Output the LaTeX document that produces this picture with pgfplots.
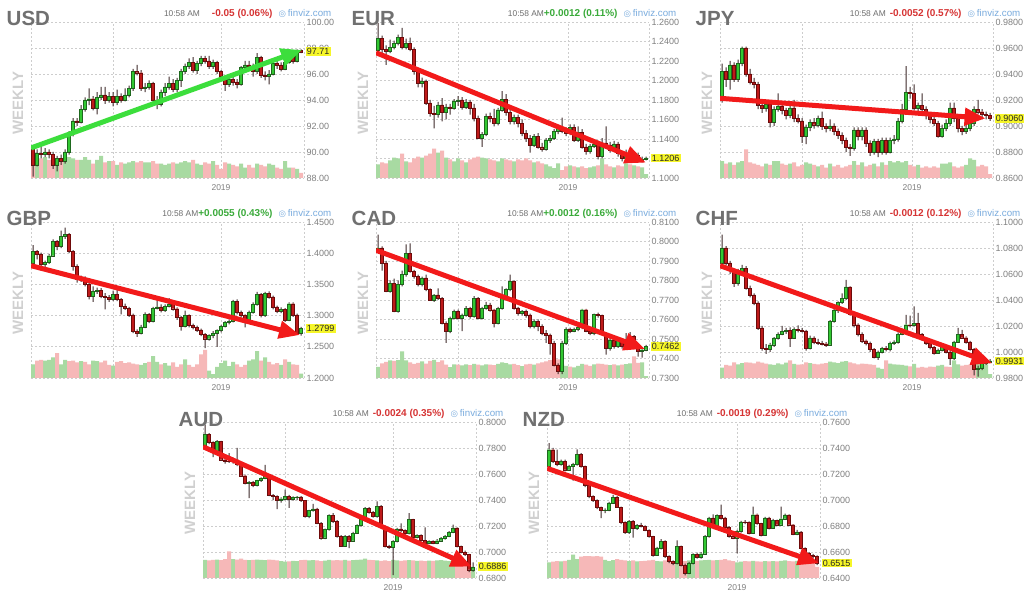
\documentclass[border=0pt]{standalone}
\usepackage{pgfplots}
\pgfplotsset{compat=1.18}
\usepackage{pgfplotstable}
\usepackage{fontspec}
\setmainfont{Liberation Sans}
\newfontfamily\dejavu{DejaVu Sans}
\usetikzlibrary{arrows.meta}

\definecolor{volg}{RGB}{168,218,162}
\definecolor{volr}{RGB}{246,184,184}
\definecolor{bodyg}{RGB}{50,200,50}
\definecolor{edgeg}{RGB}{30,105,30}
\definecolor{bodyr}{RGB}{190,26,26}
\definecolor{edger}{RGB}{110,10,10}
\definecolor{wickc}{RGB}{60,40,40}
\definecolor{arrr}{RGB}{242,26,26}
\definecolor{arrg}{RGB}{60,222,60}
\definecolor{titlegray}{RGB}{112,112,112}
\definecolor{weeklygray}{RGB}{208,208,208}
\definecolor{tickgray}{RGB}{128,128,128}
\definecolor{timegray}{RGB}{110,110,110}
\definecolor{chgred}{RGB}{214,52,52}
\definecolor{chggreen}{RGB}{58,170,58}
\definecolor{fvblue}{RGB}{122,172,222}
\definecolor{ybox}{RGB}{246,246,40}
\definecolor{gridc}{RGB}{205,205,205}

\pgfplotstableread{
o c h l v
90.2 89.0 90.3 88.1 89.7
89.0 89.9 90.2 88.9 89.5
89.9 89.8 90.6 89.5 89.5
89.8 90.0 90.3 89.6 89.6
90.0 89.8 90.2 89.5 89.4
89.8 89.0 90.0 88.7 89.4
89.0 89.5 89.7 88.5 89.3
89.5 89.3 89.8 89.0 89.5
89.3 90.0 90.2 89.1 89.7
90.0 91.4 91.6 89.8 89.6
91.4 92.4 92.6 91.2 89.5
92.4 92.3 92.6 92.0 89.4
92.3 93.3 93.6 92.2 89.4
93.3 94.0 94.2 93.1 89.6
94.0 94.1 94.9 93.6 89.4
94.1 93.4 94.3 93.2 89.1
93.4 94.2 94.6 92.9 89.4
94.2 94.4 95.0 94.0 89.7
94.4 94.0 95.0 93.7 89.2
94.0 94.3 94.6 93.8 89.3
94.3 93.8 94.6 93.5 89.3
93.8 94.3 94.8 93.6 89.0
94.3 94.0 94.5 93.8 89.2
94.0 94.4 94.9 93.9 89.1
94.4 94.9 95.1 94.2 89.2
94.9 96.2 96.4 94.7 89.3
96.2 96.1 96.7 95.9 89.2
96.1 94.9 96.3 94.7 89.3
94.9 95.0 95.3 94.6 89.2
95.0 95.3 95.5 94.8 89.2
95.3 94.0 95.4 93.9 89.3
94.0 93.7 94.3 93.3 89.1
93.7 94.6 94.8 93.5 89.1
94.6 95.0 95.3 94.3 89.0
95.0 95.3 95.8 94.8 89.1
95.3 94.8 95.6 94.6 89.2
94.8 95.5 95.7 94.6 89.1
95.5 96.2 96.4 95.0 89.2
96.2 96.6 96.8 96.0 89.3
96.6 96.9 97.2 96.4 89.2
96.9 96.3 97.3 96.1 89.4
96.3 96.8 97.0 96.0 89.1
96.8 97.2 97.4 96.6 89.0
97.2 97.0 97.4 96.8 89.2
97.0 96.6 97.4 96.4 89.1
96.6 96.9 97.1 96.4 89.3
96.9 96.2 97.0 96.0 89.0
96.2 95.8 96.3 95.6 88.7
95.8 95.2 95.9 94.7 89.2
95.2 95.6 95.8 95.0 89.1
95.6 95.4 95.9 95.1 89.0
95.4 95.2 95.6 94.9 88.9
95.2 96.5 96.6 95.1 89.1
96.5 96.7 97.0 96.3 88.8
96.7 96.6 97.0 96.3 89.0
96.6 96.2 96.8 95.8 88.8
96.2 97.3 97.6 96.0 89.1
97.3 95.9 97.4 95.7 89.0
95.9 95.8 96.2 95.5 88.9
95.8 96.0 96.3 95.2 89.1
96.0 96.8 97.0 95.9 89.0
96.8 96.7 97.1 96.4 88.8
96.7 96.4 96.9 96.2 88.7
96.4 96.9 97.6 96.3 89.3
96.9 97.4 97.6 96.8 88.8
97.4 97.0 97.5 96.8 88.8
97.0 97.8 97.9 96.9 88.7
97.8 97.71 97.9 97.6 88.4
}\tUSD

\pgfplotstableread{
o c h l v
1.2315 1.2435 1.2590 1.2290 1.114
1.2435 1.2320 1.2460 1.2280 1.116
1.2320 1.2300 1.2360 1.2160 1.115
1.2300 1.2340 1.2420 1.2280 1.118
1.2340 1.2380 1.2410 1.2320 1.121
1.2380 1.2440 1.2470 1.2360 1.120
1.2440 1.2340 1.2540 1.2320 1.125
1.2340 1.2380 1.2430 1.2320 1.117
1.2380 1.2320 1.2440 1.2300 1.116
1.2320 1.2100 1.2340 1.2060 1.120
1.2100 1.1970 1.2130 1.1930 1.122
1.1970 1.1990 1.2030 1.1930 1.121
1.1990 1.1770 1.2010 1.1750 1.123
1.1770 1.1660 1.1800 1.1630 1.125
1.1660 1.1650 1.1740 1.1510 1.130
1.1650 1.1750 1.1780 1.1620 1.126
1.1750 1.1670 1.1820 1.1580 1.128
1.1670 1.1730 1.1760 1.1600 1.121
1.1730 1.1720 1.1760 1.1650 1.119
1.1720 1.1790 1.1810 1.1700 1.117
1.1790 1.1800 1.1840 1.1740 1.120
1.1800 1.1730 1.1830 1.1700 1.118
1.1730 1.1780 1.1810 1.1710 1.116
1.1780 1.1720 1.1800 1.1650 1.119
1.1720 1.1610 1.1760 1.1580 1.121
1.1610 1.1410 1.1640 1.1400 1.122
1.1410 1.1450 1.1470 1.1320 1.121
1.1450 1.1630 1.1660 1.1430 1.120
1.1630 1.1610 1.1670 1.1570 1.119
1.1610 1.1560 1.1710 1.1530 1.118
1.1560 1.1700 1.1720 1.1540 1.117
1.1700 1.1810 1.1890 1.1680 1.120
1.1810 1.1670 1.1860 1.1640 1.119
1.1670 1.1580 1.1700 1.1550 1.118
1.1580 1.1620 1.1650 1.1550 1.117
1.1620 1.1560 1.1650 1.1520 1.119
1.1560 1.1460 1.1600 1.1430 1.118
1.1460 1.1410 1.1490 1.1370 1.120
1.1410 1.1340 1.1440 1.1260 1.118
1.1340 1.1430 1.1450 1.1320 1.116
1.1430 1.1320 1.1460 1.1300 1.117
1.1320 1.1300 1.1360 1.1270 1.115
1.1300 1.1390 1.1410 1.1280 1.114
1.1390 1.1410 1.1440 1.1360 1.112
1.1410 1.1480 1.1500 1.1390 1.110
1.1480 1.1510 1.1540 1.1450 1.115
1.1510 1.1480 1.1620 1.1460 1.108
1.1480 1.1460 1.1520 1.1430 1.112
1.1460 1.1520 1.1550 1.1440 1.113
1.1520 1.1390 1.1550 1.1370 1.112
1.1390 1.1470 1.1530 1.1370 1.111
1.1470 1.1320 1.1500 1.1300 1.112
1.1320 1.1270 1.1350 1.1240 1.110
1.1270 1.1330 1.1350 1.1250 1.111
1.1330 1.1350 1.1390 1.1310 1.112
1.1350 1.1220 1.1380 1.1190 1.113
1.1220 1.1360 1.1410 1.1200 1.120
1.1360 1.1340 1.1530 1.1320 1.114
1.1340 1.1290 1.1370 1.1260 1.112
1.1290 1.1350 1.1380 1.1270 1.111
1.1350 1.1250 1.1370 1.1220 1.113
1.1250 1.1200 1.1270 1.1170 1.112
1.1200 1.1240 1.1290 1.1180 1.115
1.1240 1.1200 1.1270 1.1160 1.114
1.1200 1.1230 1.1260 1.1180 1.113
1.1230 1.1180 1.1260 1.1160 1.112
1.1180 1.1190 1.1220 1.1160 1.111
1.1190 1.1206 1.1220 1.1180 1.104
}\tEUR

\pgfplotstableread{
o c h l v
0.920 0.942 0.948 0.918 0.873
0.942 0.936 0.945 0.930 0.871
0.936 0.947 0.950 0.928 0.872
0.947 0.936 0.949 0.934 0.870
0.936 0.948 0.951 0.934 0.872
0.948 0.960 0.961 0.946 0.873
0.960 0.940 0.961 0.938 0.882
0.940 0.934 0.944 0.932 0.872
0.934 0.932 0.937 0.929 0.871
0.932 0.916 0.934 0.913 0.870
0.916 0.914 0.920 0.910 0.869
0.914 0.917 0.920 0.911 0.871
0.917 0.903 0.919 0.899 0.870
0.903 0.913 0.915 0.900 0.873
0.913 0.915 0.925 0.911 0.873
0.915 0.912 0.918 0.909 0.871
0.912 0.908 0.914 0.905 0.870
0.908 0.914 0.916 0.906 0.871
0.914 0.906 0.920 0.903 0.872
0.906 0.904 0.909 0.902 0.869
0.904 0.892 0.906 0.887 0.870
0.892 0.899 0.901 0.886 0.872
0.899 0.903 0.905 0.896 0.871
0.903 0.901 0.906 0.898 0.870
0.901 0.906 0.908 0.899 0.869
0.906 0.8995 0.911 0.897 0.870
0.8995 0.898 0.902 0.895 0.868
0.898 0.900 0.905 0.896 0.871
0.900 0.896 0.902 0.893 0.869
0.896 0.893 0.898 0.890 0.870
0.893 0.889 0.895 0.886 0.868
0.889 0.884 0.891 0.880 0.869
0.884 0.883 0.886 0.877 0.870
0.883 0.897 0.899 0.881 0.873
0.897 0.892 0.899 0.889 0.870
0.892 0.897 0.899 0.889 0.872
0.897 0.887 0.899 0.884 0.869
0.887 0.880 0.889 0.877 0.870
0.880 0.888 0.890 0.878 0.871
0.888 0.880 0.890 0.876 0.869
0.880 0.889 0.891 0.878 0.872
0.889 0.880 0.891 0.878 0.870
0.880 0.889 0.891 0.879 0.873
0.889 0.890 0.893 0.886 0.872
0.890 0.904 0.906 0.888 0.873
0.904 0.913 0.917 0.902 0.872
0.913 0.926 0.946 0.911 0.873
0.926 0.925 0.930 0.921 0.870
0.925 0.914 0.932 0.912 0.869
0.914 0.916 0.918 0.911 0.870
0.916 0.913 0.925 0.911 0.868
0.913 0.908 0.915 0.905 0.869
0.908 0.905 0.910 0.902 0.868
0.905 0.902 0.907 0.900 0.869
0.902 0.892 0.904 0.891 0.868
0.892 0.898 0.901 0.891 0.871
0.898 0.902 0.905 0.896 0.871
0.902 0.914 0.918 0.900 0.872
0.914 0.906 0.918 0.903 0.869
0.906 0.898 0.909 0.895 0.868
0.898 0.896 0.900 0.893 0.869
0.896 0.898 0.901 0.894 0.870
0.898 0.902 0.905 0.896 0.875
0.902 0.913 0.915 0.900 0.874
0.913 0.911 0.920 0.909 0.869
0.911 0.909 0.913 0.905 0.870
0.909 0.908 0.911 0.905 0.869
0.908 0.906 0.910 0.904 0.863
}\tJPY

\pgfplotstableread{
o c h l v
1.384 1.403 1.413 1.380 1.222
1.403 1.398 1.405 1.390 1.228
1.398 1.382 1.401 1.372 1.229
1.382 1.385 1.388 1.377 1.228
1.385 1.396 1.399 1.383 1.229
1.396 1.419 1.422 1.394 1.233
1.419 1.411 1.421 1.405 1.240
1.411 1.427 1.436 1.408 1.222
1.427 1.430 1.441 1.423 1.229
1.430 1.403 1.432 1.400 1.227
1.403 1.379 1.405 1.372 1.228
1.379 1.358 1.382 1.353 1.225
1.358 1.360 1.364 1.354 1.227
1.360 1.350 1.363 1.347 1.226
1.350 1.331 1.352 1.326 1.222
1.331 1.339 1.347 1.322 1.228
1.339 1.341 1.345 1.335 1.227
1.341 1.331 1.344 1.328 1.225
1.331 1.329 1.336 1.310 1.228
1.329 1.326 1.333 1.322 1.221
1.326 1.334 1.340 1.323 1.220
1.334 1.326 1.341 1.323 1.226
1.326 1.315 1.328 1.302 1.227
1.315 1.312 1.319 1.309 1.224
1.312 1.301 1.314 1.298 1.225
1.301 1.275 1.303 1.272 1.223
1.275 1.272 1.278 1.266 1.222
1.272 1.282 1.285 1.270 1.221
1.282 1.302 1.305 1.280 1.224
1.302 1.291 1.304 1.288 1.226
1.291 1.312 1.314 1.289 1.235
1.312 1.314 1.331 1.310 1.226
1.314 1.308 1.318 1.305 1.222
1.308 1.315 1.318 1.306 1.224
1.315 1.318 1.328 1.313 1.220
1.318 1.311 1.321 1.308 1.225
1.311 1.297 1.313 1.293 1.218
1.297 1.283 1.299 1.276 1.222
1.283 1.300 1.308 1.281 1.230
1.300 1.284 1.302 1.281 1.221
1.284 1.281 1.287 1.278 1.218
1.281 1.277 1.284 1.274 1.222
1.277 1.270 1.279 1.267 1.238
1.270 1.263 1.272 1.248 1.245
1.263 1.268 1.270 1.260 1.212
1.268 1.272 1.275 1.264 1.206
1.272 1.276 1.278 1.250 1.218
1.276 1.283 1.285 1.273 1.224
1.283 1.289 1.291 1.281 1.228
1.289 1.291 1.294 1.286 1.219
1.291 1.323 1.325 1.289 1.226
1.323 1.305 1.326 1.302 1.222
1.305 1.300 1.308 1.297 1.218
1.300 1.293 1.302 1.281 1.221
1.293 1.305 1.308 1.291 1.228
1.305 1.318 1.321 1.303 1.230
1.318 1.334 1.338 1.316 1.243
1.334 1.300 1.336 1.297 1.228
1.300 1.336 1.338 1.298 1.233
1.336 1.330 1.339 1.327 1.226
1.330 1.314 1.332 1.310 1.222
1.314 1.307 1.316 1.304 1.224
1.307 1.310 1.313 1.304 1.221
1.310 1.293 1.312 1.290 1.230
1.293 1.319 1.321 1.291 1.226
1.319 1.301 1.321 1.298 1.222
1.301 1.272 1.303 1.269 1.221
1.272 1.2799 1.282 1.268 1.207
}\tGBP

\pgfplotstableread{
o c h l v
0.7955 0.7967 0.8035 0.7950 0.7357
0.7967 0.7890 0.7975 0.7850 0.7375
0.7890 0.7744 0.7900 0.7740 0.7382
0.7744 0.7787 0.7800 0.7738 0.7390
0.7787 0.7642 0.7810 0.7638 0.7388
0.7642 0.7779 0.7800 0.7635 0.7392
0.7779 0.7830 0.7850 0.7770 0.7437
0.7830 0.7940 0.7985 0.7820 0.7390
0.7940 0.7847 0.7990 0.7840 0.7380
0.7847 0.7821 0.7855 0.7810 0.7372
0.7821 0.7779 0.7830 0.7770 0.7378
0.7779 0.7813 0.7820 0.7770 0.7385
0.7813 0.7753 0.7830 0.7745 0.7374
0.7753 0.7700 0.7760 0.7695 0.7388
0.7700 0.7726 0.7730 0.7690 0.7393
0.7726 0.7710 0.7760 0.7700 0.7381
0.7710 0.7582 0.7715 0.7575 0.7390
0.7582 0.7540 0.7590 0.7480 0.7368
0.7540 0.7607 0.7615 0.7530 0.7355
0.7607 0.7641 0.7650 0.7600 0.7370
0.7641 0.7607 0.7650 0.7600 0.7368
0.7607 0.7624 0.7630 0.7540 0.7365
0.7624 0.7658 0.7668 0.7615 0.7370
0.7658 0.7615 0.7665 0.7605 0.7366
0.7615 0.7710 0.7720 0.7610 0.7372
0.7710 0.7607 0.7715 0.7600 0.7368
0.7607 0.7658 0.7665 0.7600 0.7364
0.7658 0.7675 0.7690 0.7650 0.7370
0.7675 0.7650 0.7685 0.7640 0.7368
0.7650 0.7582 0.7655 0.7560 0.7366
0.7582 0.7658 0.7665 0.7575 0.7372
0.7658 0.7718 0.7770 0.7650 0.7380
0.7718 0.7753 0.7760 0.7710 0.7376
0.7753 0.7796 0.7830 0.7745 0.7370
0.7796 0.7660 0.7800 0.7650 0.7372
0.7660 0.7632 0.7665 0.7620 0.7366
0.7632 0.7641 0.7648 0.7620 0.7361
0.7641 0.7624 0.7650 0.7610 0.7370
0.7624 0.7565 0.7630 0.7555 0.7372
0.7565 0.7590 0.7600 0.7555 0.7368
0.7590 0.7565 0.7600 0.7540 0.7375
0.7565 0.7530 0.7575 0.7520 0.7380
0.7530 0.7521 0.7545 0.7480 0.7385
0.7521 0.7479 0.7528 0.7420 0.7392
0.7479 0.7367 0.7490 0.7360 0.7400
0.7367 0.7333 0.7375 0.7320 0.7396
0.7333 0.7480 0.7490 0.7320 0.7370
0.7480 0.7550 0.7560 0.7470 0.7362
0.7550 0.7541 0.7558 0.7530 0.7358
0.7541 0.7550 0.7558 0.7535 0.7354
0.7550 0.7560 0.7568 0.7540 0.7362
0.7560 0.7650 0.7655 0.7550 0.7372
0.7650 0.7541 0.7655 0.7535 0.7368
0.7541 0.7530 0.7548 0.7520 0.7362
0.7530 0.7628 0.7630 0.7520 0.7370
0.7628 0.7620 0.7635 0.7610 0.7374
0.7620 0.7530 0.7625 0.7520 0.7372
0.7530 0.7454 0.7535 0.7420 0.7368
0.7454 0.7496 0.7505 0.7440 0.7366
0.7496 0.7462 0.7505 0.7450 0.7370
0.7462 0.7496 0.7505 0.7455 0.7364
0.7496 0.7462 0.7502 0.7450 0.7368
0.7462 0.7487 0.7530 0.7455 0.7371
0.7487 0.7513 0.7535 0.7480 0.7375
0.7513 0.7462 0.7520 0.7450 0.7411
0.7462 0.7436 0.7470 0.7410 0.7378
0.7436 0.7445 0.7455 0.7405 0.7380
0.7445 0.7462 0.7470 0.7438 0.7310
}\tCAD

\pgfplotstableread{
o c h l v
1.0685 1.0800 1.0903 1.0660 0.9880
1.0800 1.0685 1.0815 1.0670 0.9900
1.0685 1.0630 1.0700 1.0600 0.9895
1.0630 1.0530 1.0640 1.0500 0.9920
1.0530 1.0620 1.0640 1.0510 0.9905
1.0620 1.0646 1.0670 1.0600 0.9915
1.0646 1.0492 1.0660 1.0480 0.9920
1.0492 1.0440 1.0510 1.0420 0.9918
1.0440 1.0377 1.0450 1.0360 0.9912
1.0377 1.0185 1.0390 1.0170 0.9925
1.0185 1.0030 1.0200 1.0010 0.9918
1.0030 1.0020 1.0060 0.9985 0.9910
1.0020 1.0056 1.0070 1.0000 0.9905
1.0056 1.0108 1.0115 1.0040 0.9900
1.0108 1.0138 1.0150 1.0095 0.9912
1.0138 1.0159 1.0200 1.0130 0.9905
1.0159 1.0167 1.0185 1.0140 0.9918
1.0167 1.0108 1.0190 1.0040 0.9935
1.0108 1.0172 1.0190 1.0100 0.9908
1.0172 1.0167 1.0205 1.0150 0.9902
1.0167 1.0162 1.0185 1.0150 0.9905
1.0162 1.0030 1.0170 1.0010 0.9920
1.0030 1.0108 1.0125 1.0020 0.9915
1.0108 1.0074 1.0120 1.0060 0.9908
1.0074 1.0069 1.0100 1.0055 0.9905
1.0069 1.0064 1.0085 1.0050 0.9910
1.0064 1.0056 1.0075 1.0040 0.9915
1.0056 1.0236 1.0245 1.0050 0.9925
1.0236 1.0320 1.0330 1.0225 0.9920
1.0320 1.0380 1.0390 1.0300 0.9915
1.0380 1.0413 1.0450 1.0370 0.9925
1.0413 1.0500 1.0555 1.0400 0.9930
1.0500 1.0292 1.0505 1.0280 0.9920
1.0292 1.0210 1.0300 1.0190 0.9912
1.0210 1.0138 1.0220 1.0120 0.9905
1.0138 1.0087 1.0150 1.0070 0.9910
1.0087 1.0067 1.0095 1.0050 0.9908
1.0067 1.0020 1.0080 1.0000 0.9905
1.0020 0.9962 1.0030 0.9950 0.9900
0.9962 1.0000 1.0010 0.9940 0.9880
1.0000 1.0028 1.0040 0.9990 0.9870
1.0028 1.0018 1.0045 1.0005 0.9935
1.0018 1.0067 1.0080 1.0005 0.9910
1.0067 1.0077 1.0090 1.0055 0.9905
1.0077 1.0138 1.0150 1.0065 0.9902
1.0138 1.0169 1.0180 1.0130 0.9900
1.0169 1.0210 1.0285 1.0160 0.9895
1.0210 1.0205 1.0280 1.0190 0.9890
1.0205 1.0220 1.0350 1.0195 0.9908
1.0220 1.0138 1.0300 1.0130 0.9880
1.0138 1.0095 1.0145 1.0085 0.9885
1.0095 1.0067 1.0105 1.0055 0.9880
1.0067 1.0036 1.0075 1.0020 0.9888
1.0036 0.9992 1.0045 0.9980 0.9885
0.9992 1.0013 1.0025 0.9985 0.9895
1.0013 1.0041 1.0050 1.0005 0.9900
1.0041 1.0000 1.0050 0.9990 0.9888
1.0000 0.9949 1.0010 0.9900 0.9885
0.9949 1.0077 1.0085 0.9940 0.9935
1.0077 1.0138 1.0185 1.0070 0.9905
1.0138 1.0110 1.0170 1.0100 0.9895
1.0110 1.0077 1.0120 1.0065 0.9900
1.0077 1.0023 1.0085 1.0010 0.9902
1.0023 0.9865 1.0030 0.9820 0.9895
0.9865 0.9877 0.9895 0.9810 0.9908
0.9877 0.9915 0.9925 0.9860 0.9910
0.9915 0.9925 0.9945 0.9900 0.9905
0.9925 0.9931 0.9945 0.9915 0.9830
}\tCHF

\pgfplotstableread{
o c h l v
0.7813 0.7903 0.7980 0.7800 0.6940
0.7903 0.7844 0.7915 0.7830 0.6935
0.7844 0.7769 0.7850 0.7730 0.6940
0.7769 0.7851 0.7860 0.7760 0.6942
0.7851 0.7710 0.7855 0.7700 0.6938
0.7710 0.7697 0.7725 0.7680 0.6945
0.7697 0.7695 0.7760 0.7685 0.7005
0.7695 0.7710 0.7725 0.7680 0.6945
0.7710 0.7672 0.7800 0.7660 0.6942
0.7672 0.7587 0.7680 0.7580 0.6948
0.7587 0.7531 0.7595 0.7520 0.6940
0.7531 0.7536 0.7545 0.7415 0.6938
0.7536 0.7513 0.7545 0.7500 0.6940
0.7513 0.7549 0.7555 0.7505 0.6942
0.7549 0.7567 0.7575 0.7540 0.6940
0.7567 0.7582 0.7670 0.7560 0.6938
0.7582 0.7438 0.7590 0.7430 0.6942
0.7438 0.7428 0.7445 0.7400 0.6940
0.7428 0.7397 0.7435 0.7330 0.6935
0.7397 0.7410 0.7420 0.7380 0.6930
0.7410 0.7428 0.7480 0.7400 0.6925
0.7428 0.7408 0.7440 0.7340 0.6928
0.7408 0.7418 0.7428 0.7395 0.6932
0.7418 0.7425 0.7430 0.7400 0.6930
0.7425 0.7397 0.7430 0.7385 0.6938
0.7397 0.7274 0.7400 0.7265 0.6940
0.7274 0.7318 0.7325 0.7260 0.6936
0.7318 0.7331 0.7370 0.7310 0.6938
0.7331 0.7223 0.7340 0.7215 0.6935
0.7223 0.7110 0.7230 0.7095 0.6930
0.7110 0.7172 0.7180 0.7100 0.6934
0.7172 0.7280 0.7290 0.7165 0.6940
0.7280 0.7238 0.7300 0.7225 0.6936
0.7238 0.7121 0.7245 0.7110 0.6938
0.7121 0.7046 0.7130 0.7040 0.6935
0.7046 0.7121 0.7130 0.7040 0.6940
0.7121 0.7087 0.7130 0.7030 0.6934
0.7087 0.7146 0.7155 0.7080 0.6938
0.7146 0.7203 0.7212 0.7140 0.6940
0.7203 0.7254 0.7262 0.7195 0.6942
0.7254 0.7338 0.7345 0.7245 0.6948
0.7338 0.7305 0.7345 0.7295 0.6940
0.7305 0.7274 0.7315 0.7265 0.6938
0.7274 0.7351 0.7390 0.7265 0.6936
0.7351 0.7197 0.7360 0.7190 0.6932
0.7197 0.7044 0.7205 0.7035 0.6935
0.7044 0.7036 0.7055 0.7025 0.6930
0.7036 0.7082 0.7090 0.6823 0.6940
0.7082 0.7177 0.7185 0.7075 0.6935
0.7177 0.7167 0.7220 0.7155 0.6932
0.7167 0.7141 0.7175 0.7130 0.6936
0.7141 0.7249 0.7300 0.7135 0.6938
0.7249 0.7115 0.7255 0.7105 0.6935
0.7115 0.7126 0.7135 0.7105 0.6932
0.7126 0.7090 0.7135 0.7080 0.6934
0.7090 0.7069 0.7190 0.7060 0.6930
0.7069 0.7080 0.7090 0.7060 0.6934
0.7080 0.7069 0.7090 0.7060 0.6932
0.7069 0.7087 0.7100 0.7060 0.6936
0.7087 0.7105 0.7115 0.7080 0.6938
0.7105 0.7121 0.7130 0.7095 0.6934
0.7121 0.7151 0.7160 0.7115 0.6930
0.7151 0.7185 0.7210 0.7145 0.6940
0.7185 0.7041 0.7190 0.7035 0.6938
0.7041 0.7000 0.7050 0.6990 0.6930
0.7000 0.6980 0.7010 0.6970 0.6925
0.6980 0.6864 0.6985 0.6845 0.6920
0.6864 0.6886 0.6920 0.6850 0.6880
}\tAUD

\pgfplotstableread{
o c h l v
0.7259 0.7387 0.7438 0.7245 0.6520
0.7387 0.7295 0.7400 0.7285 0.6525
0.7295 0.7274 0.7387 0.7260 0.6530
0.7274 0.7300 0.7310 0.7265 0.6528
0.7300 0.7233 0.7310 0.7220 0.6532
0.7233 0.7259 0.7270 0.7225 0.6540
0.7259 0.7272 0.7285 0.7150 0.6580
0.7272 0.7349 0.7390 0.7265 0.6545
0.7349 0.7259 0.7360 0.7250 0.6565
0.7259 0.7113 0.7265 0.7100 0.6568
0.7113 0.7028 0.7120 0.7015 0.6568
0.7028 0.6997 0.7035 0.6985 0.6566
0.6997 0.6944 0.7005 0.6930 0.6568
0.6944 0.6921 0.6950 0.6860 0.6565
0.6921 0.6925 0.6935 0.6900 0.6540
0.6925 0.6977 0.6985 0.6915 0.6530
0.6977 0.7021 0.7040 0.6970 0.6538
0.7021 0.6946 0.7030 0.6940 0.6545
0.6946 0.6826 0.6950 0.6815 0.6540
0.6826 0.6749 0.6835 0.6740 0.6535
0.6749 0.6836 0.6845 0.6740 0.6530
0.6836 0.6780 0.6845 0.6710 0.6535
0.6780 0.6805 0.6815 0.6770 0.6528
0.6805 0.6800 0.6825 0.6790 0.6530
0.6800 0.6769 0.6805 0.6760 0.6532
0.6769 0.6721 0.6775 0.6710 0.6535
0.6721 0.6577 0.6725 0.6565 0.6540
0.6577 0.6631 0.6640 0.6570 0.6530
0.6631 0.6682 0.6700 0.6620 0.6528
0.6682 0.6567 0.6690 0.6555 0.6535
0.6567 0.6528 0.6575 0.6515 0.6530
0.6528 0.6515 0.6535 0.6500 0.6525
0.6515 0.6643 0.6690 0.6505 0.6520
0.6643 0.6500 0.6650 0.6490 0.6528
0.6500 0.6438 0.6510 0.6420 0.6530
0.6438 0.6515 0.6525 0.6430 0.6535
0.6515 0.6580 0.6590 0.6505 0.6540
0.6580 0.6562 0.6595 0.6550 0.6532
0.6562 0.6587 0.6600 0.6550 0.6535
0.6587 0.6720 0.6730 0.6580 0.6538
0.6720 0.6862 0.6870 0.6710 0.6540
0.6862 0.6803 0.6890 0.6795 0.6535
0.6803 0.6880 0.6890 0.6795 0.6538
0.6880 0.6862 0.6964 0.6850 0.6540
0.6862 0.6792 0.6870 0.6785 0.6545
0.6792 0.6721 0.6800 0.6710 0.6535
0.6721 0.6710 0.6730 0.6700 0.6530
0.6710 0.6759 0.6770 0.6590 0.6520
0.6759 0.6831 0.6840 0.6750 0.6525
0.6831 0.6828 0.6845 0.6815 0.6530
0.6828 0.6746 0.6835 0.6735 0.6528
0.6746 0.6887 0.6950 0.6740 0.6532
0.6887 0.6818 0.6895 0.6810 0.6528
0.6818 0.6730 0.6825 0.6720 0.6525
0.6730 0.6862 0.6870 0.6725 0.6530
0.6862 0.6785 0.6870 0.6775 0.6528
0.6785 0.6844 0.6855 0.6780 0.6530
0.6844 0.6810 0.6850 0.6800 0.6528
0.6810 0.6856 0.6950 0.6805 0.6532
0.6856 0.6885 0.6895 0.6850 0.6535
0.6885 0.6810 0.6890 0.6800 0.6530
0.6810 0.6738 0.6815 0.6730 0.6528
0.6738 0.6754 0.6770 0.6730 0.6532
0.6754 0.6628 0.6760 0.6620 0.6535
0.6628 0.6592 0.6635 0.6585 0.6530
0.6592 0.6572 0.6600 0.6560 0.6525
0.6572 0.6567 0.6585 0.6555 0.6528
0.6567 0.6515 0.6575 0.6500 0.6485
}\tNZD

\pgfplotsset{
  base/.style={
    scale only axis, width=273pt, height=156pt,
    xmin=-0.5, xmax=67.75, anchor=north west,
  },
  fx/.style={
    base,
    axis line style={draw=none},
    major tick length=0pt,
    yticklabel pos=right,
    ymajorgrids, xmajorgrids,
    grid style={draw=gridc, line width=0.6pt, dash pattern=on 2pt off 2pt},
    yticklabel style={font=\fontsize{9}{10}\selectfont, text=tickgray, xshift=-1pt},
    xticklabel style={font=\fontsize{8.5}{10}\selectfont, text=tickgray, yshift=-3pt},
    scaled y ticks=false,
    /pgf/number format/fixed,
    /pgf/number format/fixed zerofill,
    /pgf/number format/precision=4,
    /pgf/number format/assume math mode=true,
    xticklabels={,,2019,},
  },
  ov/.style={base, hide axis},
}

% volume bars, inside the main axis
\newcommand{\volume}[1]{%
 \addplot[ybar, bar width=1, bar shift=0pt, draw=none, fill=volg] table[x expr=\coordindex, y expr={\thisrow{c}>=\thisrow{o} ? \thisrow{v} : 0}] {#1};
 \addplot[ybar, bar width=1, bar shift=0pt, draw=none, fill=volr] table[x expr=\coordindex, y expr={\thisrow{c}<\thisrow{o} ? \thisrow{v} : 0}] {#1};
}

% candles: one stacked bar axis laid over the main one
\newcommand{\candleaxis}[4]{%
 \begin{axis}[ov, at={#1}, ymin=#2, ymax=#3, ybar stacked]
  \addplot[draw=none, fill=none, bar width=0.25] table[x expr=\coordindex, y=l] {#4};
  \addplot[draw=none, fill=wickc, bar width=0.25] table[x expr=\coordindex, y expr={min(\thisrow{o},\thisrow{c})-\thisrow{l}}] {#4};
  \addplot[draw=edgeg, line width=0.35pt, fill=bodyg, bar width=0.78] table[x expr=\coordindex, y expr={\thisrow{c}>=\thisrow{o} ? \thisrow{c}-\thisrow{o} : 0}] {#4};
  \addplot[draw=edger, line width=0.35pt, fill=bodyr, bar width=0.78] table[x expr=\coordindex, y expr={\thisrow{c}<\thisrow{o} ? \thisrow{o}-\thisrow{c} : 0}] {#4};
  \addplot[draw=none, fill=wickc, bar width=0.25] table[x expr=\coordindex, y expr={\thisrow{h}-max(\thisrow{o},\thisrow{c})}] {#4};
 \end{axis}}

% trend arrow, laid over the candles
\newcommand{\arrowaxis}[5]{%
 \begin{axis}[ov, at={#1}, ymin=#2, ymax=#3]
  \addplot[#4, line width=5pt, -{Triangle[length=21pt,width=17pt]}] coordinates {#5};
 \end{axis}}

\newcommand{\hdr}[3]{{\fontsize{8.4}{10}\selectfont\color{timegray}10:58 AM}#3{\fontsize{10}{10}\selectfont\bfseries\color{#1}#2}\hspace{6pt}{\color{fvblue}{\dejavu\fontsize{8.5}{10}\selectfont ◎}\hspace{2pt}\fontsize{9.75}{10}\selectfont finviz.com}}

\newcommand{\deco}[4]{%
  \node[anchor=base west, inner sep=0pt, font=\fontsize{20.5}{21}\selectfont\bfseries, text=titlegray] at ([xshift=-24.5pt,yshift=-4pt]#1.north west) {#2};
  \node[anchor=base east, inner sep=0pt] at ([xshift=27.5pt,yshift=5pt]#1.north east) {#3};
  \node[rotate=90, inner sep=0pt, font=\fontsize{15}{15}\selectfont\bfseries, text=weeklygray] at ([xshift=-13pt,yshift=-3pt]#1.west) {WEEKLY};
  \node[anchor=west, fill=ybox, inner sep=1.2pt, font=\fontsize{9}{10}\selectfont, text=black!85, xshift=1.5pt] at (#1p) {#4};
}

\begin{document}
\begin{tikzpicture}
\fill[white] (0,0) rectangle (1024pt,597pt);
\useasboundingbox (0,0) rectangle (1024pt,597pt);

% USD
\begin{axis}[fx, name=usd, at={(31pt,575pt)},
  ymin=88, ymax=100, ytick={88,90,92,94,96,98,100},
  /pgf/number format/precision=2, xtick={-0.5,20,47,67.75}]
\volume{\tUSD}
\coordinate (usdp) at (axis cs:67.75,97.71);
\end{axis}
\candleaxis{(31pt,575pt)}{88}{100}{\tUSD}
\arrowaxis{(31pt,575pt)}{88}{100}{arrg}{(-0.5,90.31) (67.25,97.85)}
\deco{usd}{USD}{\hdr{chgred}{-0.05 (0.06\%)}{\hspace{12pt}}}{97.71}

% EUR
\begin{axis}[fx, name=eur, at={(376pt,575pt)},
  ymin=1.10, ymax=1.26, ytick={1.10,1.12,1.14,1.16,1.18,1.20,1.22,1.24,1.26},
  xtick={-0.5,20,47.5,67.75}]
\volume{\tEUR}
\coordinate (eurp) at (axis cs:67.75,1.1206);
\end{axis}
\candleaxis{(376pt,575pt)}{1.10}{1.26}{\tEUR}
\arrowaxis{(376pt,575pt)}{1.10}{1.26}{arrr}{(-0.5,1.2285) (67,1.1157)}
\deco{eur}{EUR}{\hdr{chggreen}{+0.0012 (0.11\%)}{}}{1.1206}

% JPY
\begin{axis}[fx, name=jpy, at={(720pt,575pt)},
  ymin=0.86, ymax=0.98, ytick={0.86,0.88,0.90,0.92,0.94,0.96,0.98},
  xtick={-0.5,20,47.5,67.75}]
\volume{\tJPY}
\coordinate (jpyp) at (axis cs:67.75,0.9060);
\end{axis}
\candleaxis{(720pt,575pt)}{0.86}{0.98}{\tJPY}
\arrowaxis{(720pt,575pt)}{0.86}{0.98}{arrr}{(-0.5,0.9213) (65.9,0.9059)}
\deco{jpy}{JPY}{\hdr{chgred}{-0.0052 (0.57\%)}{\hspace{4pt}}}{0.9060}

% GBP
\begin{axis}[fx, name=gbp, at={(31pt,375pt)},
  ymin=1.20, ymax=1.45, ytick={1.20,1.25,1.30,1.35,1.40,1.45},
  xtick={-0.5,20,47,67.75}]
\volume{\tGBP}
\coordinate (gbpp) at (axis cs:67.75,1.2799);
\end{axis}
\candleaxis{(31pt,375pt)}{1.20}{1.45}{\tGBP}
\arrowaxis{(31pt,375pt)}{1.20}{1.45}{arrr}{(-0.5,1.380) (66.75,1.2689)}
\deco{gbp}{GBP}{\hdr{chggreen}{+0.0055 (0.43\%)}{}}{1.2799}

% CAD
\begin{axis}[fx, name=cad, at={(376pt,375pt)},
  ymin=0.73, ymax=0.81, ytick={0.73,0.74,0.75,0.76,0.77,0.78,0.79,0.80,0.81},
  xtick={-0.5,20,47.5,67.75}]
\volume{\tCAD}
\coordinate (cadp) at (axis cs:67.75,0.7462);
\end{axis}
\candleaxis{(376pt,375pt)}{0.73}{0.81}{\tCAD}
\arrowaxis{(376pt,375pt)}{0.73}{0.81}{arrr}{(-0.5,0.7955) (66.75,0.7449)}
\deco{cad}{CAD}{\hdr{chggreen}{+0.0012 (0.16\%)}{}}{0.7462}

% CHF
\begin{axis}[fx, name=chf, at={(720pt,375pt)},
  ymin=0.98, ymax=1.10, ytick={0.98,1.00,1.02,1.04,1.06,1.08,1.10},
  xtick={-0.5,20,47.5,67.75}]
\volume{\tCHF}
\coordinate (chfp) at (axis cs:67.75,0.9931);
\end{axis}
\candleaxis{(720pt,375pt)}{0.98}{1.10}{\tCHF}
\arrowaxis{(720pt,375pt)}{0.98}{1.10}{arrr}{(-0.5,1.0664) (67.6,0.9913)}
\deco{chf}{CHF}{\hdr{chgred}{-0.0012 (0.12\%)}{\hspace{4pt}}}{0.9931}

% AUD
\begin{axis}[fx, name=aud, at={(203pt,175pt)},
  ymin=0.68, ymax=0.80, ytick={0.68,0.70,0.72,0.74,0.76,0.78,0.80},
  xtick={-0.5,20,47,67.75}]
\volume{\tAUD}
\coordinate (audp) at (axis cs:67.75,0.6886);
\end{axis}
\candleaxis{(203pt,175pt)}{0.68}{0.80}{\tAUD}
\arrowaxis{(203pt,175pt)}{0.68}{0.80}{arrr}{(-0.5,0.781) (66.7,0.6887)}
\deco{aud}{AUD}{\hdr{chgred}{-0.0024 (0.35\%)}{\hspace{4pt}}}{0.6886}

% NZD
\begin{axis}[fx, name=nzd, at={(547pt,175pt)},
  ymin=0.64, ymax=0.76, ytick={0.64,0.66,0.68,0.70,0.72,0.74,0.76},
  xtick={-0.5,20,47,67.75}]
\volume{\tNZD}
\coordinate (nzdp) at (axis cs:67.75,0.6515);
\end{axis}
\candleaxis{(547pt,175pt)}{0.64}{0.76}{\tNZD}
\arrowaxis{(547pt,175pt)}{0.64}{0.76}{arrr}{(-0.5,0.7244) (67.5,0.6513)}
\deco{nzd}{NZD}{\hdr{chgred}{-0.0019 (0.29\%)}{\hspace{4pt}}}{0.6515}

\end{tikzpicture}
\end{document}
